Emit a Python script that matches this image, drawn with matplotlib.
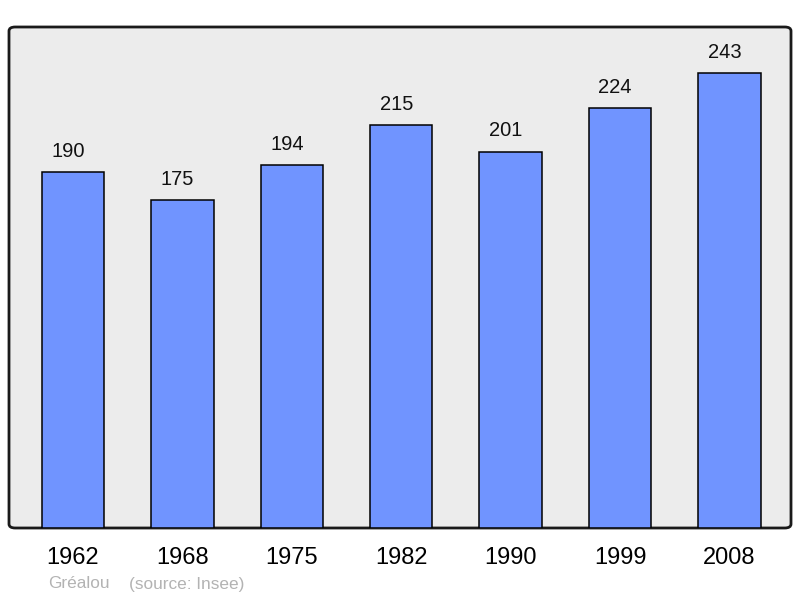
import matplotlib.pyplot as plt
from matplotlib.patches import FancyBboxPatch

plt.rcParams['font.family'] = ['Liberation Sans', 'DejaVu Sans']

# Data
years = ["1962", "1968", "1975", "1982", "1990", "1999", "2008"]
population = [190, 175, 194, 215, 201, 224, 243]

fig = plt.figure(figsize=(8, 5.98), dpi=100)
ax = fig.add_axes([9 / 800, 1 - 528 / 598, 782 / 800, 501 / 598])

ax.set_facecolor('none')
for s in ax.spines.values():
    s.set_visible(False)

# rounded frame with grey background
frame = FancyBboxPatch((0, 0), 1, 1, boxstyle="round,pad=0,rounding_size=0.008",
                       transform=ax.transAxes, facecolor='#ececec',
                       edgecolor='#1a1a1a', linewidth=2, zorder=0, clip_on=False)
ax.add_patch(frame)

x = range(len(years))
bars = ax.bar(x, population, width=0.57, color='#7094ff', edgecolor='black',
              linewidth=1.1, zorder=2)

# value labels sit a little left of the bar centre, like the original
for xi, v in zip(x, population):
    ax.text(xi - 0.045, v + 11, str(v), ha='center', va='center',
            fontsize=14.5, color='#111111')

ax.set_xlim(-0.585, 6.563)
ax.set_ylim(0, 267.5)
ax.set_yticks([])
ax.set_xticks(list(x))
ax.set_xticklabels(years, fontsize=17)
ax.tick_params(axis='x', length=0, pad=14)

fig.text(48 / 800, 1 - 584 / 598, "Gréalou", fontsize=12.4, color='#b3b3b3', va='center')
fig.text(129 / 800, 1 - 584 / 598, "(source: Insee)", fontsize=12.4, color='#b3b3b3', va='center')

fig.savefig("out.png", dpi=100)
